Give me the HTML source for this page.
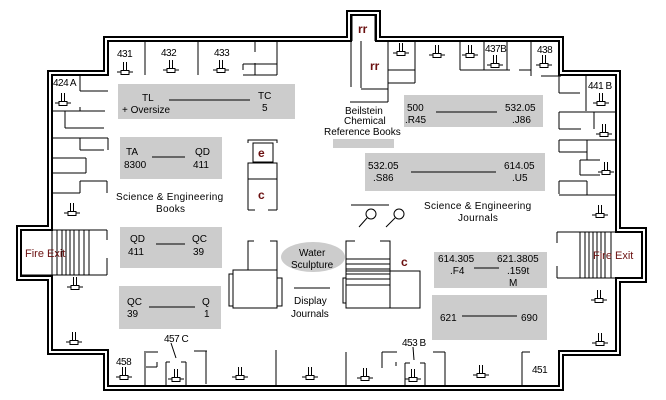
<!DOCTYPE html>
<html><head><meta charset="utf-8"><style>
html,body{margin:0;padding:0;background:#fff;}
svg{display:block;}
text{font-family:"Liberation Sans",sans-serif;font-size:10px;fill:#000;}
.n{font-size:10px;letter-spacing:-0.5px;}
.r{fill:#6b1010;font-weight:bold;font-size:12px;}
.f{fill:#6b1010;font-size:11px;}
</style></head><body>
<svg width="666" height="400" viewBox="0 0 666 400" xmlns="http://www.w3.org/2000/svg">
<defs>
<g id="d" stroke="#000" stroke-width="1" fill="#fff">
<line x1="-1.5" y1="-11" x2="-1.5" y2="-1"/><line x1="1.5" y1="-11" x2="1.5" y2="-1"/>
<line x1="-8" y1="-1" x2="8" y2="-1"/>
<rect x="-4" y="-2.5" width="8" height="4"/>
</g>
</defs>
<!-- outer wall -->
<path d="M106,39 L349,39 L349,13 L378,13 L378,39 L561,39 L561,73 L618,73 L618,230 L644,230 L644,280 L618,280 L618,353 L561,353 L561,388 L106,388 L106,352 L50,352 L50,278 L19,278 L19,228 L50,228 L50,73 L106,73 Z" fill="none" stroke="#000" stroke-width="6" stroke-linejoin="miter"/>
<path d="M106,39 L349,39 L349,13 L378,13 L378,39 L561,39 L561,73 L618,73 L618,230 L644,230 L644,280 L618,280 L618,353 L561,353 L561,388 L106,388 L106,352 L50,352 L50,278 L19,278 L19,228 L50,228 L50,73 L106,73 Z" fill="none" stroke="#fff" stroke-width="2" stroke-linejoin="miter"/>
<!-- gray boxes -->
<g fill="#cccccc">
<rect x="118" y="84" width="177" height="35"/>
<rect x="120" y="137" width="102" height="42"/>
<rect x="404" y="95" width="139" height="32"/>
<rect x="333" y="139" width="61" height="9"/>
<rect x="365" y="153" width="180" height="38"/>
<rect x="120" y="227" width="102" height="41"/>
<rect x="119" y="286" width="102" height="43"/>
<rect x="434" y="252" width="113" height="36"/>
<rect x="432" y="295" width="115" height="45"/>
<ellipse cx="313" cy="257" rx="32" ry="15"/>
</g>
<g stroke="#000" stroke-width="1" fill="none" shape-rendering="crispEdges">
<!-- top rooms -->
<path d="M145,41V75 M198,41V75 M255,41V52 M255,63V75 M243,64H277 M243,64V70 M277,41V75 M243,75H277"/>
<path d="M80,75V91 M80,91H108 M80,107V111 M52,111H105 M65,111V128 M65,128H104"/>
<path d="M52,138H108 M80,138V150 M80,150H104 M108,138V150 M52,158H86 M86,158V173 M52,173H86 M80,181H107 M80,181V193 M52,193H80 M107,181V193"/>
<!-- rr -->
<path d="M352,16V41 M375,16V41 M361,41V88 M361,89H388 M388,41V102 M350,102H388 M351,41V87"/>
<path d="M388,70H415 M415,41V83 M388,83H415 M460,41V70 M460,70H471 M471,70H485 M484,41V70 M484,70H510 M507,41V70 M519,70H531 M531,41V76 M541,76H561"/>
<path d="M559,76V93 M559,93H580 M586,76V111 M559,112H617 M559,112V129 M559,129H581 M594,112V129 M559,140H617 M559,140V152 M559,152H587 M587,140V160 M580,160H600 M580,160V175 M580,175H600 M559,181H587 M559,181V194 M587,181V195 M559,195H617"/>
<!-- left fire exit -->
<path d="M21,230H107 M21,275H107 M107,230V240 M107,258V275"/>
<path d="M52,230V275 M57,230V275 M62,230V275 M66,230V275 M70,230V275 M74,230V275 M79,230V275 M84,230V275 M89,230V275"/>
<!-- right fire exit -->
<path d="M557,232H641 M557,278H641 M557,232V243 M557,266V278"/>
<path d="M580,232V278 M585,232V278 M589,232V278 M593,232V278 M597,232V278 M601,232V278 M605,232V278 M611,232V278"/>
<!-- center e/c -->
<path d="M248,143V140H277V143 M248,166V163H277V166 M248,179H277 M248,163V210 M277,163V210 M248,210H255 M268,210H277"/>
<rect x="253" y="143" width="20" height="19"/>
<!-- left elevator -->
<path d="M248,270V241H254 M270,241H277V270"/>
<rect x="233" y="270" width="44" height="38"/>
<rect x="229" y="274" width="4" height="32"/>
<rect x="277" y="278" width="5" height="28"/>
<!-- right escalator -->
<path d="M346,308V241H355 M380,241H390V308"/>
<rect x="346" y="271" width="74" height="37"/>
<rect x="343" y="278" width="3" height="25"/>
<path d="M346,259H390 M346,264H390 M346,269H390 M346,274H390 M346,279H390 M346,285H390 M390,271V308"/>
<!-- display line -->
<path d="M294,288H330 M351,205H389"/>
<!-- bottom rooms -->
<path d="M145,351V385 M146,352H158 M146,367H157 M157,362V367 M166,362V385 M166,362H170 M181,362H186 M186,362V385 M194,351H207 M206,351V384 M276,350V385"/>
<path d="M346,352V385 M382,352H397 M382,352V368 M396,362V366 M405,363V385 M405,363H410 M420,363H425 M425,363V385 M433,352H445 M445,352V385 M522,352V385 M522,352H530"/>
</g>
<!-- magnifiers -->
<g stroke="#000" fill="none">
<circle cx="371" cy="214" r="5"/><line x1="367" y1="218" x2="359" y2="227"/>
<circle cx="399" cy="214" r="5"/><line x1="395" y1="218" x2="386" y2="227"/>
<line x1="171" y1="343" x2="176" y2="358"/><line x1="413" y1="347" x2="414" y2="360"/>
</g>
<!-- desks -->
<g>
<use href="#d" x="125" y="73"/><use href="#d" x="171" y="71"/><use href="#d" x="221" y="71"/>
<use href="#d" x="63" y="104"/>
<use href="#d" x="401" y="54"/><use href="#d" x="437" y="56"/><use href="#d" x="470" y="56"/>
<use href="#d" x="495" y="66"/><use href="#d" x="544" y="66"/>
<use href="#d" x="601" y="104"/><use href="#d" x="604" y="135"/><use href="#d" x="606" y="173"/>
<use href="#d" x="72" y="214"/><use href="#d" x="75" y="288"/><use href="#d" x="74" y="343"/>
<use href="#d" x="124" y="378"/><use href="#d" x="176" y="380"/><use href="#d" x="240" y="378"/><use href="#d" x="310" y="378"/>
<use href="#d" x="365" y="379"/><use href="#d" x="413" y="380"/><use href="#d" x="481" y="376"/>
<use href="#d" x="600" y="216"/><use href="#d" x="599" y="301"/><use href="#d" x="600" y="344"/>
</g>
<!-- room numbers -->
<g class="n">
<text x="117" y="57">431</text><text x="161" y="56">432</text><text x="214" y="56">433</text>
<text x="53" y="86">424 A</text><text x="485" y="52">437B</text><text x="537" y="53">438</text>
<text x="588" y="89">441 B</text><text x="116" y="365">458</text><text x="164" y="342">457 C</text>
<text x="402" y="346">453 B</text><text x="532" y="373">451</text>
</g>
<text class="r" x="358" y="33">rr</text><text class="r" x="370" y="70">rr</text>
<text class="r" x="258" y="157">e</text><text class="r" x="258" y="199">c</text><text class="r" x="401" y="266">c</text>
<text class="f" x="25" y="257">Fire Exit</text><text class="f" x="593" y="259">Fire Exit</text>
<!-- box labels -->
<g>
<text x="142" y="101">TL</text><text x="122" y="113">+ Oversize</text><text x="258" y="99">TC</text><text x="262" y="111">5</text>
<line x1="169" y1="100" x2="250" y2="100" stroke="#000"/>
<text x="126" y="155">TA</text><text x="124" y="168">8300</text><text x="195" y="155">QD</text><text x="193" y="168">411</text>
<line x1="152" y1="157" x2="185" y2="157" stroke="#000"/>
<text x="407" y="111">500</text><text x="405" y="123">.R45</text><text x="505" y="111">532.05</text><text x="512" y="123">.J86</text>
<line x1="436" y1="112" x2="497" y2="112" stroke="#000"/>
<text x="368" y="169">532.05</text><text x="373" y="181">.S86</text><text x="504" y="169">614.05</text><text x="512" y="181">.U5</text>
<line x1="411" y1="172" x2="496" y2="172" stroke="#000"/>
<text x="130" y="242">QD</text><text x="128" y="255">411</text><text x="192" y="242">QC</text><text x="193" y="255">39</text>
<line x1="156" y1="244" x2="185" y2="244" stroke="#000"/>
<text x="127" y="305">QC</text><text x="127" y="317">39</text><text x="202" y="305">Q</text><text x="204" y="317">1</text>
<line x1="149" y1="307" x2="195" y2="307" stroke="#000"/>
<text x="438" y="262">614.305</text><text x="450" y="274">.F4</text><text x="497" y="262">621.3805</text><text x="507" y="274">.159t</text><text x="509" y="286">M</text>
<line x1="474" y1="268" x2="499" y2="268" stroke="#000"/>
<text x="440" y="321">621</text><text x="521" y="321">690</text>
<line x1="462" y1="316" x2="517" y2="316" stroke="#000"/>
</g>
<!-- area labels -->
<text x="116" y="200" letter-spacing="0.3">Science &amp; Engineering</text><text x="156" y="212" letter-spacing="0.3">Books</text>
<text x="424" y="209" letter-spacing="0.3">Science &amp; Engineering</text><text x="458" y="221" letter-spacing="0.3">Journals</text>
<text x="345" y="114">Beilstein</text><text x="344" y="124">Chemical</text><text x="324" y="135">Reference Books</text>
<text x="299" y="256">Water</text><text x="291" y="268">Sculpture</text>
<text x="294" y="304">Display</text><text x="291" y="317">Journals</text>
</svg>
</body></html>
